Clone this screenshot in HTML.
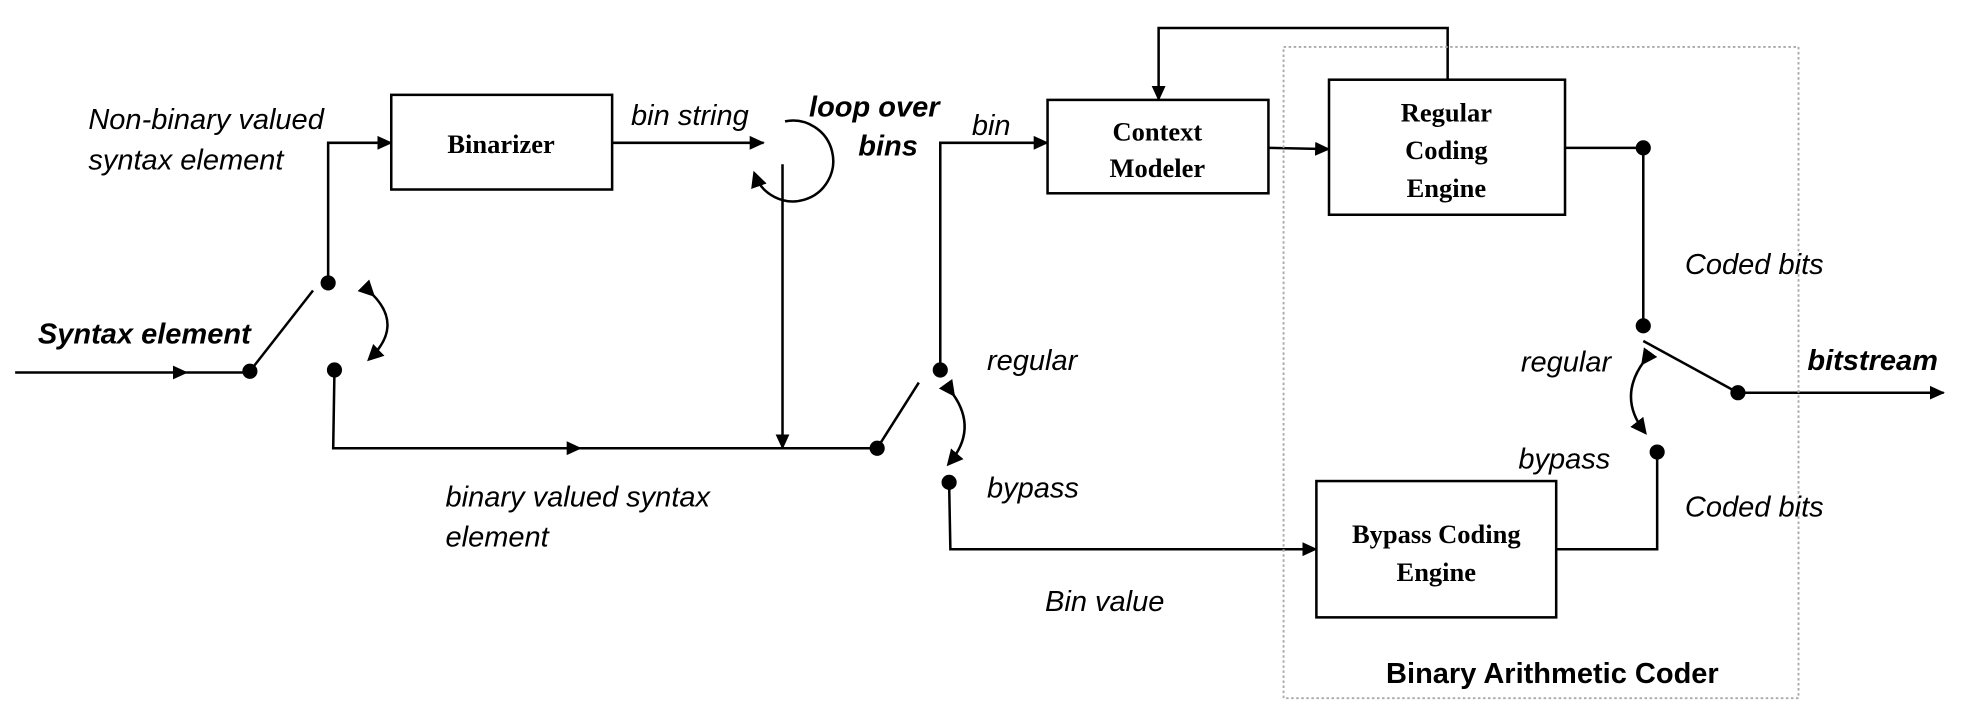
<!DOCTYPE html>
<html><head><style>html,body{margin:0;padding:0;background:#fff;}svg{display:block;}</style></head>
<body>
<svg width="1979" height="716" viewBox="0 0 1568 567" xmlns="http://www.w3.org/2000/svg">
<defs>
<marker id="a" markerWidth="12" markerHeight="12" refX="11" refY="6" orient="auto" markerUnits="userSpaceOnUse"><path d="M0,0.5 L12,6 L0,11.5 z" fill="#000"/></marker>
<marker id="s" markerWidth="13" markerHeight="13" refX="10" refY="6.5" orient="auto" markerUnits="userSpaceOnUse"><path d="M0,0 L13,6.5 L0,13 z" fill="#000"/></marker>
</defs>
<g stroke="#000" stroke-width="2" fill="none">
<line x1="12" y1="295" x2="148" y2="295" marker-end="url(#a)"/>
<line x1="148" y1="295" x2="198" y2="295"/>
<line x1="198" y1="294" x2="248" y2="230"/>
<polyline points="260,224 260,113 310,113" marker-end="url(#a)"/>
<rect x="310" y="75" width="175" height="75"/>
<line x1="485" y1="113" x2="605" y2="113" marker-end="url(#a)"/>
<path d="M622,96 A32,32 0 1 1 598,138" marker-end="url(#s)"/>
<line x1="620" y1="130" x2="620" y2="355" marker-end="url(#a)"/>
<polyline points="265,293 264,355 460,355" marker-end="url(#a)"/>
<line x1="460" y1="355" x2="695" y2="355"/>
<path d="M295,233 Q320,258 293,284" marker-start="url(#s)" marker-end="url(#s)"/>
<line x1="695" y1="355" x2="728" y2="303"/>
<polyline points="745,293 745,113 830,113" marker-end="url(#a)"/>
<path d="M755,312 Q775,340 752,367" marker-start="url(#s)" marker-end="url(#s)"/>
<polyline points="752,382 753,435 1043,435" marker-end="url(#a)"/>
<rect x="830" y="79" width="175" height="74"/>
<line x1="1005" y1="117" x2="1053" y2="118" marker-end="url(#a)"/>
<rect x="1053" y="63" width="187" height="107"/>
<polyline points="1147,63 1147,22 918,22 918,79" marker-end="url(#a)"/>
<polyline points="1240,117 1302,117 1302,258"/>
<line x1="1302" y1="270" x2="1377" y2="311"/>
<line x1="1377" y1="311" x2="1540" y2="311" marker-end="url(#a)"/>
<path d="M1302,287 Q1282,315 1303,342" marker-start="url(#s)" marker-end="url(#s)"/>
<polyline points="1313,358 1313,435 1233,435"/>
<rect x="1043" y="381" width="190" height="108"/>
</g>
<rect x="1017" y="37" width="408" height="516" fill="none" stroke="#aaa" stroke-width="1.5" stroke-dasharray="2,2"/>
<g fill="#000">
<circle cx="198" cy="294" r="6"/><circle cx="260" cy="224" r="6"/><circle cx="265" cy="293" r="6"/>
<circle cx="695" cy="355" r="6"/><circle cx="745" cy="293" r="6"/><circle cx="752" cy="382" r="6"/>
<circle cx="1302" cy="117" r="6"/><circle cx="1302" cy="258" r="6"/><circle cx="1377" cy="311" r="6"/><circle cx="1313" cy="358" r="6"/>
</g>
<g font-family="Liberation Serif, serif" font-weight="bold" font-size="21" text-anchor="middle">
<text x="397" y="121">Binarizer</text>
<text x="917" y="111">Context</text><text x="917" y="140">Modeler</text>
<text x="1146" y="96">Regular</text><text x="1146" y="126">Coding</text><text x="1146" y="156">Engine</text>
<text x="1138" y="430">Bypass Coding</text><text x="1138" y="460">Engine</text>
</g>
<g font-family="Liberation Sans, sans-serif" font-style="italic" font-size="23">
<text x="70" y="102">Non-binary valued</text><text x="70" y="134">syntax element</text>
<text x="500" y="99">bin string</text>
<text x="770" y="107">bin</text>
<text x="353" y="401">binary valued syntax</text><text x="353" y="433">element</text>
<text x="782" y="293">regular</text><text x="782" y="394">bypass</text>
<text x="828" y="484">Bin value</text>
<text x="1335" y="217">Coded bits</text><text x="1335" y="409">Coded bits</text>
<text x="1205" y="294">regular</text><text x="1203" y="371">bypass</text>
</g>
<g font-family="Liberation Sans, sans-serif" font-style="italic" font-weight="bold" font-size="23">
<text x="30" y="272">Syntax element</text>
<text x="641" y="92">loop over</text><text x="680" y="123">bins</text>
<text x="1432" y="293">bitstream</text>
</g>
<text x="1230" y="541" font-family="Liberation Sans, sans-serif" font-weight="bold" font-size="23" text-anchor="middle">Binary Arithmetic Coder</text>
</svg>
</body></html>
